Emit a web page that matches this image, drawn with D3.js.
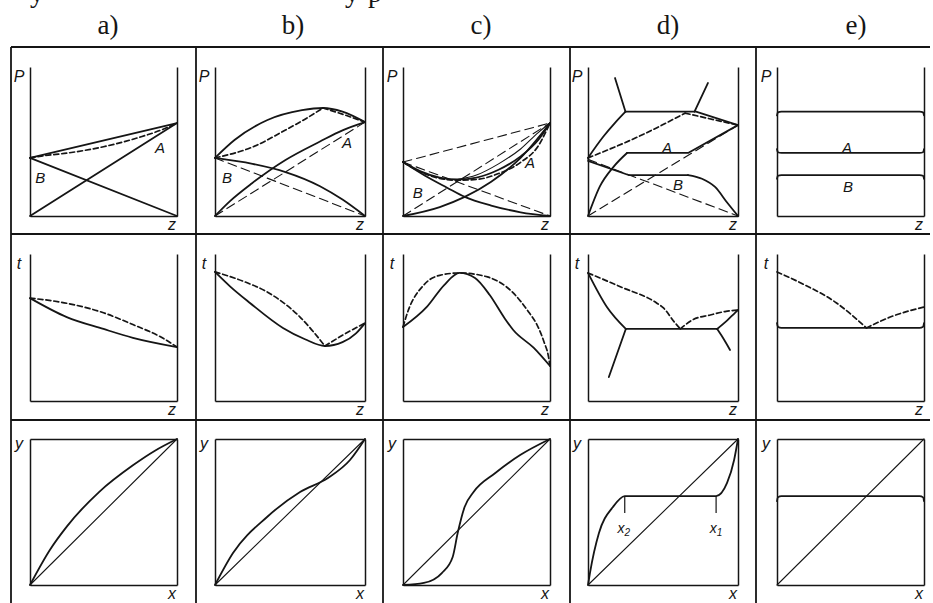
<!DOCTYPE html>
<html>
<head>
<meta charset="utf-8">
<script src="https://cdn.jsdelivr.net/npm/d3@7"></script>
<style>
  body { margin: 0; background: #fff; }
  svg { display: block; }
</style>
</head>
<body>
<svg id="svg"></svg>
<script>
// ---- data (all values normalised: composition 0..1, property 0..1) ----
const columnLabels = ["a)", "b)", "c)", "d)", "e)"];
const rowAxisLabels = [["P", "z"], ["t", "z"], ["y", "x"]];

// row 1 : P - z
const a1_liquid   = [[0, 0.39], [1, 0.624]];
const a1_vapor    = [[0, 0.39], [0.1, 0.405], [0.25, 0.422], [0.5, 0.465], [0.75, 0.53], [0.9, 0.58], [1, 0.624]];
const a1_partialA = [[0, 0], [1, 0.624]];
const a1_partialB = [[0, 0.39], [1, 0]];

const b1_liquid   = [[0, 0.39], [0.13, 0.51], [0.35, 0.644], [0.58, 0.71], [0.72, 0.725], [0.85, 0.70], [1, 0.63]];
const b1_vaporL   = [[0, 0.39], [0.25, 0.463], [0.47, 0.577], [0.6, 0.65], [0.72, 0.725]];
const b1_vaporR   = [[0.72, 0.725], [0.86, 0.68], [1, 0.63]];
const b1_partialA = [[0, 0], [0.1, 0.1], [0.247, 0.22], [0.47, 0.376], [0.7, 0.5], [0.85, 0.575], [1, 0.63]];
const b1_partialB = [[0, 0.39], [0.25, 0.35], [0.47, 0.295], [0.7, 0.2], [0.85, 0.11], [1, 0]];
const b1_idealA   = [[0, 0], [1, 0.63]];
const b1_idealB   = [[0, 0.39], [1, 0]];

const c1_liquid   = [[0, 0.362], [0.12, 0.3], [0.25, 0.258], [0.37, 0.245], [0.5, 0.258], [0.65, 0.31], [0.8, 0.40], [0.92, 0.51], [1, 0.624]];
const c1_liquid2  = [[0.37, 0.245], [0.5, 0.275], [0.65, 0.35], [0.8, 0.45], [0.92, 0.56], [1, 0.624]];
const c1_vapor    = [[0, 0.362], [0.1, 0.305], [0.25, 0.252], [0.37, 0.24], [0.5, 0.245], [0.65, 0.285], [0.8, 0.36], [0.92, 0.47], [1, 0.624]];
const c1_partialA = [[0, 0], [0.25, 0.06], [0.42, 0.128], [0.6, 0.23], [0.8, 0.39], [1, 0.624]];
const c1_partialB = [[0, 0.362], [0.15, 0.27], [0.3, 0.19], [0.42, 0.128], [0.6, 0.07], [0.8, 0.025], [1, 0]];
const c1_idealA   = [[0, 0], [1, 0.624]];
const c1_idealB   = [[0, 0.362], [1, 0]];
const c1_idealP   = [[0, 0.362], [1, 0.624]];

const d1_upperL   = [[0, 0.39], [0.1, 0.53], [0.18, 0.625], [0.25, 0.70]];
const d1_upperR   = [[0.25, 0.70], [0.72, 0.70], [1, 0.61]];
const d1_spikeL   = [[0.25, 0.70], [0.18, 0.926]];
const d1_spikeR   = [[0.71, 0.70], [0.8, 0.893]];
const d1_vaporL   = [[0, 0.39], [0.33, 0.53], [0.647, 0.69]];
const d1_vaporR   = [[0.647, 0.69], [1, 0.61]];
const d1_partialAc = [[0, 0], [0.08, 0.2], [0.17, 0.33], [0.26, 0.423]];
const d1_partialAl = [[0.26, 0.423], [0.667, 0.423], [1, 0.61]];
const d1_partialBl = [[0, 0.37], [0.27, 0.275], [0.667, 0.275]];
const d1_partialBc = [[0.667, 0.275], [0.76, 0.25], [0.847, 0.195], [0.93, 0.087], [1, 0]];
const d1_idealA   = [[0, 0], [1, 0.61]];
const d1_idealB   = [[0, 0.38], [1, 0]];

const e1_line1 = [[0, 0.675], [0.006, 0.695], [0.03, 0.70], [0.97, 0.70], [0.994, 0.695], [1, 0.675]];
const e1_line2 = [[0, 0.448], [0.006, 0.428], [0.03, 0.423], [0.97, 0.423], [0.994, 0.428], [1, 0.448]];
const e1_line3 = [[0, 0.25], [0.006, 0.27], [0.03, 0.275], [0.97, 0.275], [0.994, 0.27], [1, 0.25]];

// row 2 : t - z
const a2_liquid = [[0, 0.70], [0.25, 0.571], [0.5, 0.49], [0.7, 0.43], [1, 0.367]];
const a2_vapor  = [[0, 0.70], [0.25, 0.665], [0.5, 0.60], [0.7, 0.52], [0.9, 0.43], [1, 0.367]];

const b2_liquid = [[0, 0.878], [0.1, 0.78], [0.233, 0.667], [0.453, 0.497], [0.6, 0.42], [0.733, 0.374], [0.85, 0.40], [0.94, 0.46], [1, 0.53]];
const b2_vaporL = [[0, 0.878], [0.2, 0.81], [0.347, 0.742], [0.567, 0.571], [0.733, 0.374]];
const b2_vaporR = [[0.733, 0.374], [0.853, 0.449], [1, 0.53]];

const c2_liquid = [[0, 0.503], [0.162, 0.64], [0.28, 0.789], [0.385, 0.871], [0.49, 0.837], [0.59, 0.721], [0.69, 0.565], [0.75, 0.483], [0.89, 0.361], [1, 0.238]];
const c2_vapor  = [[0, 0.503], [0.03, 0.60], [0.142, 0.79], [0.25, 0.855], [0.385, 0.871], [0.574, 0.844], [0.75, 0.735], [0.845, 0.619], [0.919, 0.503], [0.96, 0.40], [0.99, 0.30], [1, 0.238]];

const d2_liquidL = [[0, 0.871], [0.126, 0.639], [0.252, 0.49]];
const d2_solidL  = [[0.252, 0.49], [0.139, 0.163]];
const d2_eutectic = [[0.252, 0.49], [0.861, 0.49]];
const d2_liquidR = [[0.861, 0.49], [0.93, 0.55], [0.98, 0.60], [1, 0.619]];
const d2_solidR  = [[0.861, 0.49], [0.887, 0.45], [0.947, 0.347]];
const d2_vaporL  = [[0, 0.871], [0.219, 0.776], [0.457, 0.667], [0.503, 0.633], [0.576, 0.537], [0.616, 0.49]];
const d2_vaporR  = [[0.616, 0.49], [0.695, 0.551], [0.815, 0.585], [0.92, 0.61], [1, 0.619]];

const e2_eutectic = [[0, 0.53], [0.006, 0.505], [0.03, 0.497], [0.97, 0.497], [0.994, 0.505], [1, 0.53]];
const e2_vaporL   = [[0, 0.878], [0.162, 0.803], [0.405, 0.667], [0.608, 0.497]];
const e2_vaporR   = [[0.608, 0.497], [0.77, 0.571], [1, 0.639]];

// row 3 : y - x
const diagonal = [[0, 0], [1, 1]];
const a3_eq = [[0, 0], [0.135, 0.24], [0.25, 0.40], [0.473, 0.64], [0.7, 0.82], [0.85, 0.92], [1, 1]];
const b3_eq = [[0, 0], [0.12, 0.219], [0.347, 0.466], [0.567, 0.637], [0.753, 0.733], [0.9, 0.856], [1, 1]];
const c3_eq = [[0, 0], [0.142, 0.014], [0.264, 0.082], [0.338, 0.192], [0.372, 0.356], [0.419, 0.534], [0.48, 0.637], [0.628, 0.767], [0.797, 0.89], [1, 1]];
const d3_eq = [[0, 0], [0.013, 0.082], [0.073, 0.356], [0.166, 0.534], [0.245, 0.609], [0.854, 0.609], [0.927, 0.699], [0.974, 0.856], [1, 1]];
const e3_eq = [[0, 0.575], [0.006, 0.60], [0.03, 0.609], [0.97, 0.609], [0.994, 0.60], [1, 0.575]];
const d3_marks = [["2", 0.245, 0.609, 0.493, 0.238, 0.39], ["1", 0.854, 0.609, 0.493, 0.854, 0.39]];

// A / B labels in the P-z row
const labelsA = [[0.884, 0.463], [0.88, 0.49], [0.864, 0.356], [0.527, 0.463], [0.476, 0.463]];
const labelsB = [[0.07, 0.26], [0.08, 0.26], [0.10, 0.16], [0.60, 0.21], [0.483, 0.195]];

// ---- layout ----
const width = 933, height = 603;
const cols = [[30, 177], [215, 365], [403, 550], [588, 738], [777, 924]];
const rows = [[216, 67], [401, 254], [585, 439]];
const gridX = [11, 196, 383, 570, 756];
const gridY = [47, 234, 420];
const titleX = [108, 293, 481, 668, 856];

const styles = {
  solid: { w: 1.8, dash: null },
  thin:  { w: 1.1, dash: null },
  vapor: { w: 1.7, dash: "5,3" },
  ideal: { w: 1.1, dash: "9,5" }
};
const M = d3.curveMonotoneX, L = d3.curveLinear;

const panels = [
  [0, 0, [[a1_partialA, "solid", L], [a1_partialB, "solid", L], [a1_liquid, "solid", L], [a1_vapor, "vapor", M]]],
  [0, 1, [[b1_idealA, "ideal", L], [b1_idealB, "ideal", L], [b1_partialA, "solid", M], [b1_partialB, "solid", M],
          [b1_liquid, "solid", M], [b1_vaporL, "vapor", M], [b1_vaporR, "vapor", M]]],
  [0, 2, [[c1_idealA, "ideal", L], [c1_idealB, "ideal", L], [c1_idealP, "ideal", L], [c1_partialA, "solid", M],
          [c1_partialB, "solid", M], [c1_liquid, "solid", M], [c1_liquid2, "thin", M], [c1_vapor, "vapor", M]]],
  [0, 3, [[d1_idealA, "ideal", L], [d1_idealB, "ideal", L], [d1_upperL, "solid", M], [d1_upperR, "solid", L],
          [d1_spikeL, "solid", L], [d1_spikeR, "solid", L], [d1_vaporL, "vapor", M], [d1_vaporR, "vapor", L],
          [d1_partialAc, "solid", M], [d1_partialAl, "solid", L], [d1_partialBl, "solid", L], [d1_partialBc, "solid", M]]],
  [0, 4, [[e1_line1, "solid", M], [e1_line2, "solid", M], [e1_line3, "solid", M]]],
  [1, 0, [[a2_liquid, "solid", M], [a2_vapor, "vapor", M]]],
  [1, 1, [[b2_liquid, "solid", M], [b2_vaporL, "vapor", M], [b2_vaporR, "vapor", M]]],
  [1, 2, [[c2_liquid, "solid", M], [c2_vapor, "vapor", M]]],
  [1, 3, [[d2_liquidL, "solid", M], [d2_solidL, "solid", L], [d2_eutectic, "solid", L], [d2_liquidR, "solid", M],
          [d2_solidR, "solid", M], [d2_vaporL, "vapor", M], [d2_vaporR, "vapor", M]]],
  [1, 4, [[e2_eutectic, "solid", M], [e2_vaporL, "vapor", M], [e2_vaporR, "vapor", M]]],
  [2, 0, [[diagonal, "thin", L], [a3_eq, "solid", M]]],
  [2, 1, [[diagonal, "thin", L], [b3_eq, "solid", M]]],
  [2, 2, [[diagonal, "thin", L], [c3_eq, "solid", M]]],
  [2, 3, [[diagonal, "thin", L], [d3_eq, "solid", M]]],
  [2, 4, [[diagonal, "thin", L], [e3_eq, "solid", M]]]
];

const ink = "#151515";
const svg = d3.select("#svg").attr("width", width).attr("height", height);
svg.append("rect").attr("width", width).attr("height", height).attr("fill", "#fff");

// cut-off line of text from the page above
svg.append("g").attr("font-family", "Liberation Serif").attr("font-size", 28).attr("fill", ink)
  .selectAll("text").data([["у", 30], ["у", 345], ["р", 368]]).join("text")
  .attr("x", d => d[1]).attr("y", 2).text(d => d[0]);

// column titles
svg.append("g").attr("font-family", "Liberation Serif").attr("font-size", 27).attr("fill", ink)
  .attr("text-anchor", "middle")
  .selectAll("text").data(columnLabels).join("text")
  .attr("x", (d, i) => titleX[i]).attr("y", 34).text(d => d);

// table grid
const grid = svg.append("g").attr("stroke", ink).attr("stroke-width", 1.8);
gridY.forEach(y => grid.append("line").attr("x1", gridX[0]).attr("x2", 930).attr("y1", y).attr("y2", y));
gridX.forEach(x => grid.append("line").attr("x1", x).attr("x2", x).attr("y1", gridY[0]).attr("y2", height));

const labelFont = "Liberation Sans";

panels.forEach(([r, c, curves]) => {
  const x = d3.scaleLinear().domain([0, 1]).range(cols[c]);
  const y = d3.scaleLinear().domain([0, 1]).range(rows[r]);
  const g = svg.append("g");

  // frame from the library axes, no ticks
  const axes = [
    [d3.axisBottom(x), `translate(0,${rows[r][0]})`],
    [d3.axisLeft(y), `translate(${cols[c][0]},0)`],
    [d3.axisRight(y), `translate(${cols[c][1]},0)`]
  ];
  if (r === 2) axes.push([d3.axisTop(x), `translate(0,${rows[r][1]})`]);
  axes.forEach(([ax, tr]) => {
    g.append("g").attr("transform", tr)
      .call(ax.tickValues([]).tickSizeOuter(0))
      .call(s => s.select(".domain").attr("stroke", ink).attr("stroke-width", 1.5));
  });

  curves.forEach(([data, st, curve]) => {
    g.append("path")
      .attr("d", d3.line().x(d => x(d[0])).y(d => y(d[1])).curve(curve)(data))
      .attr("fill", "none")
      .attr("stroke", ink)
      .attr("stroke-width", styles[st].w)
      .attr("stroke-dasharray", styles[st].dash)
      .attr("stroke-linejoin", "round")
      .attr("stroke-linecap", "round");
  });

  // axis letters
  const [yl, xl] = rowAxisLabels[r];
  g.append("text").attr("x", cols[c][0] - 11).attr("y", rows[r][1] + (r === 2 ? 4 : 9))
    .attr("text-anchor", "middle").attr("dominant-baseline", "central")
    .attr("font-family", labelFont).attr("font-style", "italic").attr("font-size", 16).attr("fill", ink)
    .text(yl);
  g.append("text").attr("x", cols[c][1] - 5).attr("y", rows[r][0] + 8)
    .attr("text-anchor", "middle").attr("dominant-baseline", "central")
    .attr("font-family", labelFont).attr("font-style", "italic").attr("font-size", 16).attr("fill", ink)
    .text(xl);

  if (r === 0) {
    [[labelsA[c], "A"], [labelsB[c], "B"]].forEach(([p, t]) => {
      g.append("text").attr("x", x(p[0])).attr("y", y(p[1]))
        .attr("text-anchor", "middle").attr("dominant-baseline", "central")
        .attr("font-family", labelFont).attr("font-style", "italic").attr("font-size", 15).attr("fill", ink)
        .text(t);
    });
  }

  if (r === 2 && c === 3) {
    d3_marks.forEach(([sub, mx, y0, y1, lx, ly]) => {
      g.append("line").attr("x1", x(mx)).attr("x2", x(mx)).attr("y1", y(y0)).attr("y2", y(y1))
        .attr("stroke", ink).attr("stroke-width", 1.2);
      const t = g.append("text").attr("x", x(lx)).attr("y", y(ly))
        .attr("text-anchor", "middle").attr("dominant-baseline", "central")
        .attr("font-family", labelFont).attr("font-style", "italic").attr("font-size", 14).attr("fill", ink);
      t.append("tspan").text("x");
      t.append("tspan").attr("dy", 4).attr("font-size", 10).text(sub);
    });
  }
});
</script>
</body>
</html>
